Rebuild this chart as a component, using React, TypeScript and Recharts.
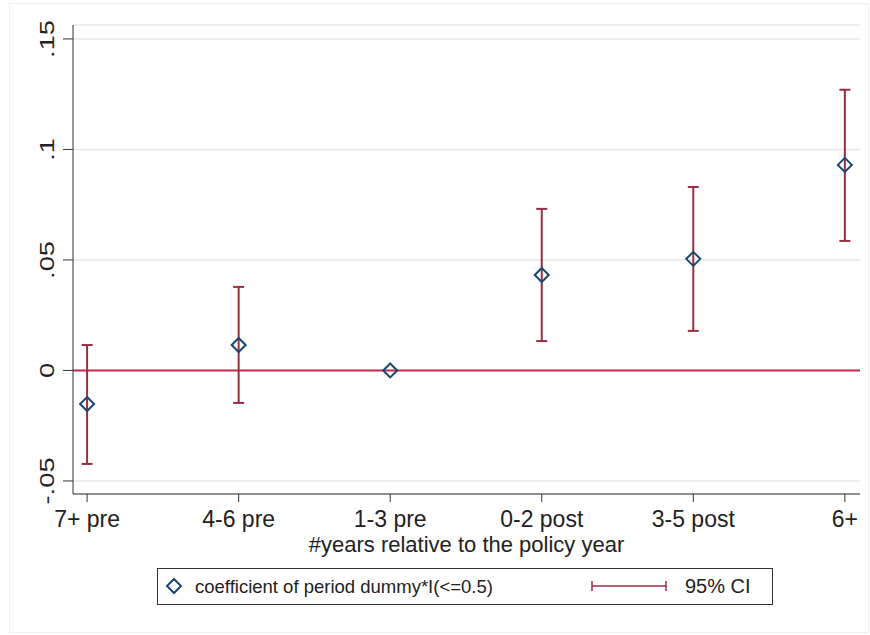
import React from "react";
import {
  ComposedChart,
  Scatter,
  ErrorBar,
  XAxis,
  YAxis,
  CartesianGrid,
  ReferenceLine,
} from "recharts";

const periods = ["7+ pre", "4-6 pre", "1-3 pre", "0-2 post", "3-5 post", "6+"];
const coef = [-0.0152, 0.0115, 0, 0.0432, 0.0505, 0.093];
const ciLow = [-0.0423, -0.0147, null, 0.0133, 0.0179, 0.0586];
const ciHigh = [0.0115, 0.0378, null, 0.0731, 0.083, 0.127];
const yTicks = [-0.05, 0, 0.05, 0.1, 0.15];
const yTickLabels = ["-.05", "0", ".05", ".1", ".15"];

const NAVY = "#1a476f";
const CI_RED = "#9c2d40";
const ZERO_RED = "#c8284f";
const FONT = "'Liberation Sans', Arial, sans-serif";

const data = periods.map((p, i) => ({
  x: i,
  label: p,
  coef: coef[i],
  err:
    ciLow[i] == null || ciHigh[i] == null
      ? null
      : [coef[i] - (ciLow[i] as number), (ciHigh[i] as number) - coef[i]],
}));

function Diamond(props: any) {
  const { cx, cy } = props;
  if (cx == null || cy == null) return null;
  const r = 7;
  return (
    <polygon
      points={`${cx},${cy - r} ${cx + r},${cy} ${cx},${cy + r} ${cx - r},${cy}`}
      fill="none"
      stroke={NAVY}
      strokeWidth={2}
    />
  );
}

// stata draws the rotated y labels a bit stretched along the text
function YTick(props: any) {
  const { x, y, payload } = props;
  const idx = yTicks.indexOf(payload.value);
  const text = idx >= 0 ? yTickLabels[idx] : String(payload.value);
  return (
    <text
      transform={`translate(${x - 14},${y}) rotate(-90) scale(1.3,1)`}
      textAnchor="middle"
      dominantBaseline="central"
      fontSize={21}
      fontFamily={FONT}
      fill="#222"
    >
      {text}
    </text>
  );
}

function XTick(props: any) {
  const { x, y, payload } = props;
  return (
    <text
      x={x}
      y={y + 23}
      textAnchor="middle"
      fontSize={23}
      fontFamily={FONT}
      fill="#222"
    >
      {periods[payload.value]}
    </text>
  );
}

function Legend() {
  return (
    <div
      style={{
        position: "absolute",
        left: 157,
        top: 568,
        width: 614,
        height: 35,
        border: "1.5px solid #333",
      }}
    >
      <svg width={614} height={35} style={{ position: "absolute", left: 0, top: 0 }}>
        <polygon points="16,10 23,17 16,24 9,17" fill="none" stroke={NAVY} strokeWidth={2} />
        <text x={37} y={24} fontSize={18.5} fontFamily={FONT} fill="#222">
          coefficient of period dummy*I(&lt;=0.5)
        </text>
        <line x1={434} y1={17} x2={508} y2={17} stroke={CI_RED} strokeWidth={1.5} />
        <line x1={434} y1={12} x2={434} y2={22} stroke={CI_RED} strokeWidth={1.5} />
        <line x1={508} y1={12} x2={508} y2={22} stroke={CI_RED} strokeWidth={1.5} />
        <text x={527} y={24} fontSize={20} fontFamily={FONT} fill="#222">
          95% CI
        </text>
      </svg>
    </div>
  );
}

export default function App() {
  return (
    <div
      style={{
        position: "absolute",
        left: 0,
        top: 0,
        width: 870,
        height: 635,
        background: "#fff",
      }}
    >
      <div
        style={{
          position: "absolute",
          left: 9,
          top: 3,
          width: 858,
          height: 628,
          border: "1px solid #f0f0f0",
        }}
      />
      <ComposedChart
        width={870}
        height={635}
        data={data}
        margin={{ top: 25, right: 10, bottom: 0, left: 0 }}
        style={{ position: "absolute", left: 0, top: 0 }}
      >
        <CartesianGrid vertical={false} stroke="#e8e8e8" strokeWidth={1.5} />
        <XAxis
          type="number"
          dataKey="x"
          domain={[-0.093, 5.1]}
          ticks={[0, 1, 2, 3, 4, 5]}
          interval={0}
          height={141}
          tickSize={8}
          stroke="#333"
          tick={<XTick />}
          label={{
            value: "#years relative to the policy year",
            position: "insideTop",
            offset: 42,
            fontSize: 22,
            fontFamily: FONT,
            fill: "#222",
          }}
        />
        <YAxis
          type="number"
          domain={[-0.0559, 0.1563]}
          ticks={yTicks}
          interval={0}
          width={73}
          tickSize={10}
          stroke="#333"
          tick={<YTick />}
          allowDataOverflow
        />
        <ReferenceLine y={0} stroke={ZERO_RED} strokeWidth={2} />
        <Scatter dataKey="coef" shape={<Diamond />} isAnimationActive={false}>
          <ErrorBar
            dataKey="err"
            direction="y"
            width={5.5}
            stroke={CI_RED}
            strokeWidth={2}
            isAnimationActive={false}
          />
        </Scatter>
      </ComposedChart>
      <Legend />
    </div>
  );
}
